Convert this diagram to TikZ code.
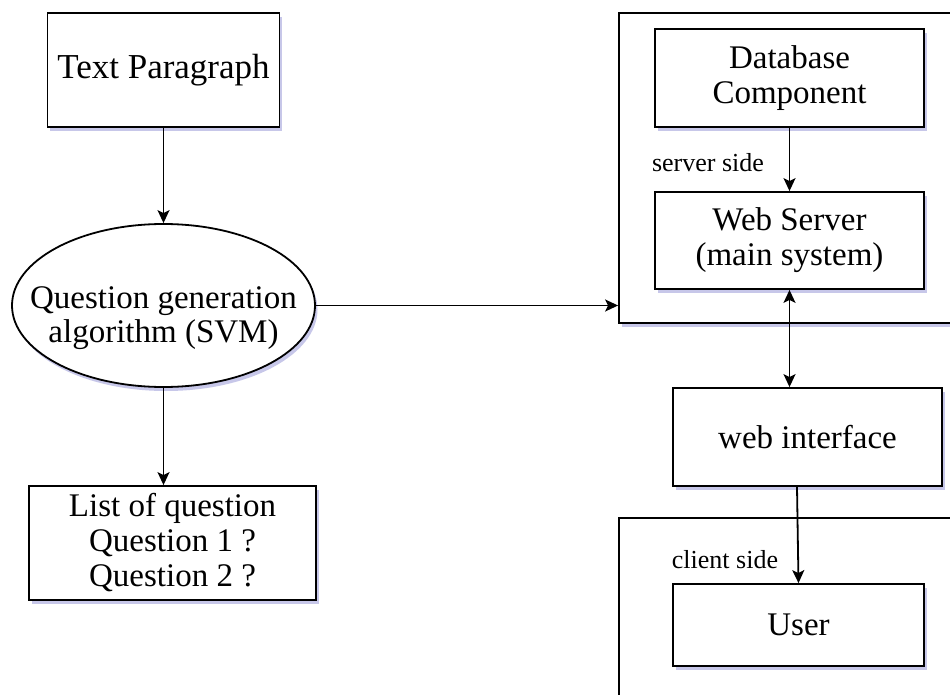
\documentclass[tikz,border=0pt]{standalone}
\usepackage{fontspec}
\setmainfont{Liberation Serif}
\usetikzlibrary{shapes.geometric,arrows.meta,shadows}
\begin{document}
\begin{tikzpicture}[x=1pt,y=-1pt,
  shd/.style={drop shadow={shadow xshift=2.5pt,shadow yshift=-4pt,opacity=0.3,fill=blue!45!gray}},
  box/.style={draw,line width=1.8pt,fill=white,shd,rectangle,align=center,inner sep=0pt,font=\fontsize{33}{35}\selectfont},
  oval/.style={draw,line width=1.8pt,fill=white,shd,ellipse,inner sep=0pt},
  txt/.style={align=center,inner sep=0pt,font=\fontsize{33}{34}\selectfont},
  cont/.style={draw,line width=1.8pt,fill=white,shd,rectangle,inner sep=0pt},
  lbl/.style={font=\fontsize{26}{28}\selectfont,inner sep=0pt},
  arr/.style={line width=1.8pt,-{Stealth[length=13pt,width=12pt,inset=3pt]}},
  darr/.style={line width=1.8pt,{Stealth[length=13pt,width=12pt,inset=3pt]}-{Stealth[length=13pt,width=12pt,inset=3pt]}},
]
\useasboundingbox (0,0) rectangle (950,695);
\clip (0,0) rectangle (950,695);
\fill[white] (0,0) rectangle (950,695);

% containers
\node[cont,minimum width=356pt,minimum height=310pt] (srv) at (797,168) {};
\node[cont,minimum width=356pt,minimum height=212pt] (cli) at (797,624) {};

% left flow
\node[box,minimum width=232pt,minimum height=114pt,font=\fontsize{35}{37}\selectfont] (tp) at (163.5,70) {Text Paragraph};
\node[oval,minimum width=303pt,minimum height=163pt] (qg) at (163.5,305.5) {};
\node[txt] (qgt) at (163.5,318) {Question generation\\algorithm (SVM)};
\node[box,minimum width=287pt,minimum height=114pt] (lq) at (172.5,543) {List of question\\Question 1 ?\\Question 2 ?};

% server side
\node[box,minimum width=269pt,minimum height=98pt] (db) at (789.5,78) {Database\\Component};
\node[box,minimum width=269pt,minimum height=97pt] (ws) at (789.5,240.5) {Web Server\\(main system)};
\node[lbl] (sl) at (708,163) {server side};

% interface and client
\node[box,minimum width=269pt,minimum height=98pt] (wi) at (807.5,437) {web interface};
\node[box,minimum width=251pt,minimum height=82pt] (us) at (798.5,625) {User};
\node[lbl] (cl) at (725,560) {client side};

% connectors
\draw[arr] (tp.south) -- (qg.north);
\draw[arr] (qg.south) -- (qg.south |- lq.north);
\draw[arr] (qg.east) -- (qg.east -| srv.west);
\draw[arr] (db.south) -- (ws.north);
\draw[darr] (ws.south) -- (ws.south |- wi.north);
\draw[arr] ([xshift=-10.5pt]wi.south) -- (us.north);
\end{tikzpicture}
\end{document}
